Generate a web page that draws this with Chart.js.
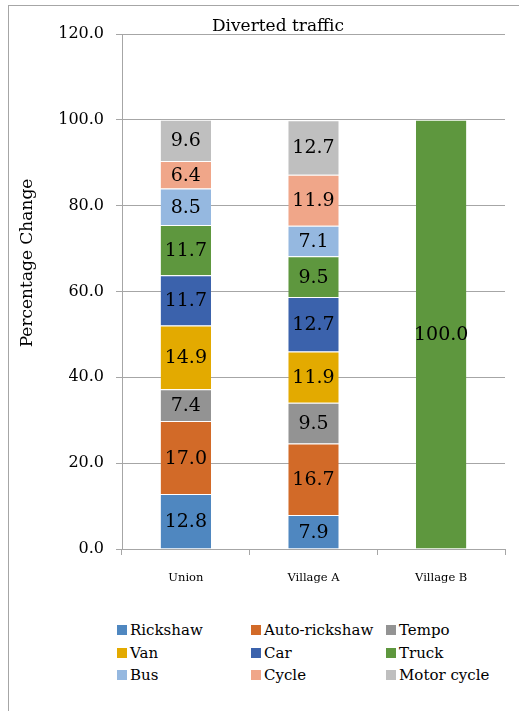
<!DOCTYPE html>
<html>
<head>
<meta charset="utf-8">
<script src="https://cdn.jsdelivr.net/npm/chart.js@4"></script>
<style>
  body { margin: 0; background: #fff; width: 519px; height: 711px; overflow: hidden; position: relative; font-family: "DejaVu Serif", "Liberation Serif", serif; }
  #frame { position: absolute; left: 8px; top: 5px; width: 530px; height: 720px; border: 1px solid #a6a6a6; box-sizing: border-box; }
  #wrap { position: absolute; left: 0; top: 0; width: 519px; height: 600px; }
  #legend { position: absolute; left: 117px; top: 619px; display: grid; grid-template-columns: 134px 135px 130px; row-gap: 0; font-size: 15px; color: #000; }
  .item { display: flex; align-items: center; height: 22.5px; white-space: nowrap; }
  .box { width: 10px; height: 10px; margin-right: 3px; flex: none; }
</style>
</head>
<body>
<div id="frame"></div>
<div id="wrap"><canvas id="chart"></canvas></div>
<div id="legend"></div>
<script>
// categories and series
const places = ['Union', 'Village A', 'Village B'];
const modes = ['Rickshaw', 'Auto-rickshaw', 'Tempo', 'Van', 'Car', 'Truck', 'Bus', 'Cycle', 'Motor cycle'];
const rickshaw = [12.8, 7.9, 0];
const autoRickshaw = [17.0, 16.7, 0];
const tempo = [7.4, 9.5, 0];
const van = [14.9, 11.9, 0];
const car = [11.7, 12.7, 0];
const truck = [11.7, 9.5, 100.0];
const bus = [8.5, 7.1, 0];
const cycle = [6.4, 11.9, 0];
const motorCycle = [9.6, 12.7, 0];
const yTicks = [0, 20, 40, 60, 80, 100, 120];

const serif = '"DejaVu Serif", "Liberation Serif", serif';
const colors = ['#4F87C0', '#D26A28', '#939393', '#E3AA00', '#3B62AC', '#5E973E', '#95B8E0', '#F0A689', '#BFBFBF'];
const seriesValues = [rickshaw, autoRickshaw, tempo, van, car, truck, bus, cycle, motorCycle];

const datasets = modes.map(function(name, i) {
    return {
        label: name,
        data: seriesValues[i],
        backgroundColor: colors[i],
        borderColor: 'rgba(255,255,255,0.6)',
        borderWidth: { top: 1, bottom: 0, left: 0, right: 0 },
        borderSkipped: false,
        barPercentage: 0.395,
        categoryPercentage: 1.0
    };
});

// draws the value inside each segment, plus titles
const labelPlugin = {
    id: 'labels',
    afterDatasetsDraw: function(chart) {
        const ctx = chart.ctx;
        ctx.save();
        ctx.fillStyle = '#000';
        ctx.font = '19px ' + serif;
        ctx.textAlign = 'center';
        ctx.textBaseline = 'middle';
        chart.data.datasets.forEach(function(ds, i) {
            chart.getDatasetMeta(i).data.forEach(function(bar, j) {
                const v = ds.data[j];
                if (!v) return;
                const p = bar.getProps(['x', 'y', 'base'], true);
                ctx.fillText(v.toFixed(1), p.x, (p.y + p.base) / 2 + 1);
            });
        });
        // chart title
        const area = chart.chartArea;
        ctx.font = '17px ' + serif;
        ctx.textBaseline = 'alphabetic';
        ctx.fillText('Diverted traffic', 278, area.top - 3);
        // axis title
        ctx.translate(28, 263);
        ctx.rotate(-Math.PI / 2);
        ctx.textBaseline = 'middle';
        ctx.font = '17px ' + serif;
        ctx.fillText('Percentage Change', 0, 0);
        ctx.restore();
    }
};

new Chart(document.getElementById('chart').getContext('2d'), {
    type: 'bar',
    data: { labels: places, datasets: datasets },
    options: {
        responsive: true,
        maintainAspectRatio: false,
        animation: false,
        layout: { padding: { top: 34, right: 14, left: 0, bottom: 0 } },
        plugins: {
            legend: { display: false },
            tooltip: { enabled: false }
        },
        scales: {
            x: {
                stacked: true,
                afterFit: function(s) { s.height = 51; },
                grid: { display: true, drawOnChartArea: false, tickLength: 6, color: '#a6a6a6' },
                border: { color: '#a6a6a6', width: 1 },
                ticks: { color: '#000', font: { family: serif, size: 11.5 }, padding: 16, maxRotation: 0 }
            },
            y: {
                stacked: true,
                min: 0,
                max: 120,
                afterFit: function(s) { s.width = 122; },
                afterBuildTicks: function(s) { s.ticks = yTicks.map(function(v) { return { value: v }; }); },
                grid: { color: '#a6a6a6', tickLength: 6 },
                border: { color: '#a6a6a6', width: 1 },
                ticks: {
                    color: '#000',
                    font: { family: serif, size: 16 },
                    padding: 12,
                    callback: function(v) { return v.toFixed(1); }
                }
            }
        }
    },
    plugins: [labelPlugin]
});

// html legend in three columns
const legend = document.getElementById('legend');
modes.forEach(function(name, i) {
    const item = document.createElement('div');
    item.className = 'item';
    item.innerHTML = '<span class="box" style="background:' + colors[i] + '"></span>' + name;
    legend.appendChild(item);
});
</script>
</body>
</html>
